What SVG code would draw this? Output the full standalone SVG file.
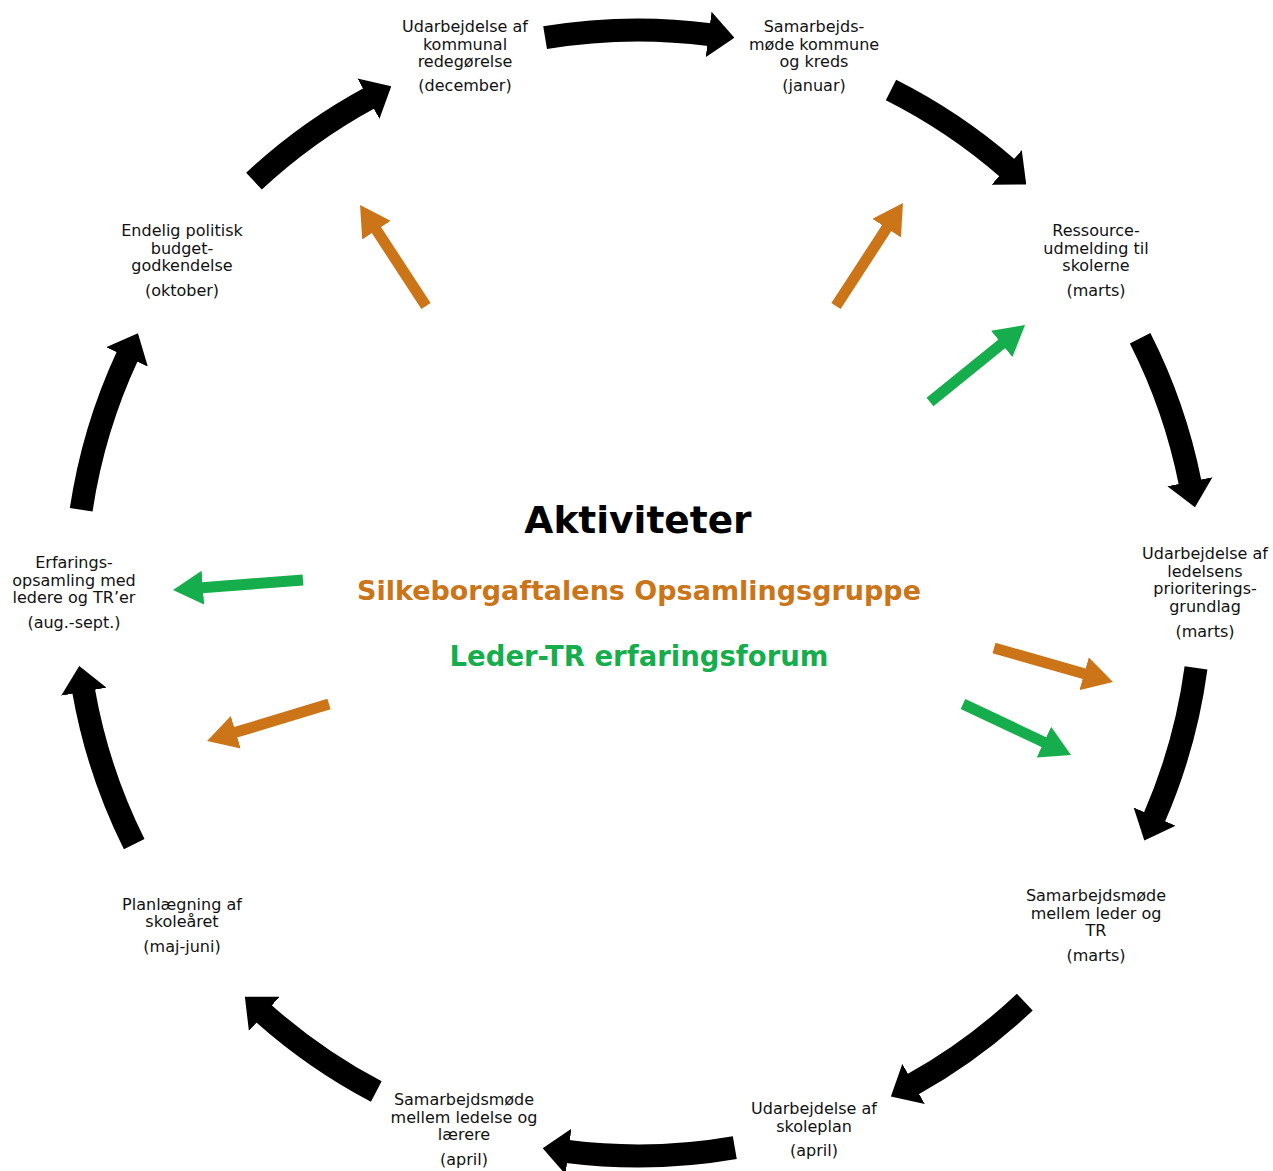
<svg xmlns="http://www.w3.org/2000/svg" width="1273" height="1171" viewBox="0 0 1273 1171">
<defs>
<style>
.lbl{font-family:"DejaVu Sans",Verdana,sans-serif;font-size:16px;fill:#111;text-anchor:middle}
.blk{fill:none;stroke:#000;stroke-width:23;marker-end:url(#hb)}
.org{fill:none;stroke:#CC7418;stroke-width:11;marker-end:url(#ho)}
.grn{fill:none;stroke:#16AE4C;stroke-width:11;marker-end:url(#hg)}
.ttl{font-family:"DejaVu Sans",Verdana,sans-serif;font-weight:bold;text-anchor:middle}
</style>
<marker id="hb" markerUnits="userSpaceOnUse" viewBox="0 0 26 46" markerWidth="26" markerHeight="46" refX="1" refY="23" orient="auto"><path d="M0,0 L26,23 L0,46 z" fill="#000"/></marker>
<marker id="ho" markerUnits="userSpaceOnUse" viewBox="0 0 30 34" markerWidth="30" markerHeight="34" refX="1" refY="17" orient="auto"><path d="M0,0 L30,17 L0,34 z" fill="#CC7418"/></marker>
<marker id="hg" markerUnits="userSpaceOnUse" viewBox="0 0 30 34" markerWidth="30" markerHeight="34" refX="1" refY="17" orient="auto"><path d="M0,0 L30,17 L0,34 z" fill="#16AE4C"/></marker>
</defs>
<rect width="1273" height="1171" fill="#fff"/>
<g id="connectors">
<path class="blk" d="M81.2,509.8 A563,563 0 0 1 127.4,356.0"/>
<path class="blk" d="M254.0,181.2 A563,563 0 0 1 369.3,98.2"/>
<path class="blk" d="M545.1,37.7 A563,563 0 0 1 709.6,34.6"/>
<path class="blk" d="M891.0,90.0 A563,563 0 0 1 1007.4,168.1"/>
<path class="blk" d="M1140.1,338.3 A563,563 0 0 1 1190.1,482.7"/>
<path class="blk" d="M1196.0,667.9 A563,563 0 0 1 1154.3,817.5"/>
<path class="blk" d="M1024.8,1002.1 A563,563 0 0 1 912.7,1084.4"/>
<path class="blk" d="M734.8,1147.6 A563,563 0 0 1 567.5,1151.5"/>
<path class="blk" d="M376.3,1091.5 A563,563 0 0 1 263.5,1013.3"/>
<path class="blk" d="M134.2,844.2 A563,563 0 0 1 83.6,690.7"/>
<path class="org" d="M426,306 L375.9,229.3"/>
<path class="org" d="M836,306 L887.2,227.3"/>
<path class="org" d="M994,648 L1085.1,674.0"/>
<path class="org" d="M329,704 L234.8,732.6"/>
<path class="grn" d="M930,402 L1002.5,343.3"/>
<path class="grn" d="M303,580 L201.9,587.8"/>
<path class="grn" d="M963,704 L1044.8,742.6"/>
</g>
<g id="center">
<text class="ttl" x="638" y="533" font-size="37.5" fill="#000">Aktiviteter</text>
<text class="ttl" x="639" y="600" font-size="27" fill="#CC7418">Silkeborgaftalens Opsamlingsgruppe</text>
<text class="ttl" x="639" y="666" font-size="27.5" fill="#16AE4C">Leder-TR erfaringsforum</text>
</g>
<g id="n-december"><text class="lbl" x="465"><tspan x="465" y="32">Udarbejdelse af</tspan><tspan x="465" y="50">kommunal</tspan><tspan x="465" y="67">redegørelse</tspan><tspan x="465" y="91">(december)</tspan></text></g>
<g id="n-januar"><text class="lbl" x="814"><tspan x="814" y="32">Samarbejds-</tspan><tspan x="814" y="50">møde kommune</tspan><tspan x="814" y="67">og kreds</tspan><tspan x="814" y="91">(januar)</tspan></text></g>
<g id="n-ressource"><text class="lbl" x="1096"><tspan x="1096" y="236">Ressource-</tspan><tspan x="1096" y="254">udmelding til</tspan><tspan x="1096" y="271">skolerne</tspan><tspan x="1096" y="296">(marts)</tspan></text></g>
<g id="n-prioritering"><text class="lbl" x="1205"><tspan x="1205" y="559">Udarbejdelse af</tspan><tspan x="1205" y="577">ledelsens</tspan><tspan x="1205" y="594">prioriterings-</tspan><tspan x="1205" y="612">grundlag</tspan><tspan x="1205" y="637">(marts)</tspan></text></g>
<g id="n-lederTR"><text class="lbl" x="1096"><tspan x="1096" y="901">Samarbejdsmøde</tspan><tspan x="1096" y="919">mellem leder og</tspan><tspan x="1096" y="936">TR</tspan><tspan x="1096" y="961">(marts)</tspan></text></g>
<g id="n-skoleplan"><text class="lbl" x="814"><tspan x="814" y="1114">Udarbejdelse af</tspan><tspan x="814" y="1132">skoleplan</tspan><tspan x="814" y="1156">(april)</tspan></text></g>
<g id="n-laerere"><text class="lbl" x="464"><tspan x="464" y="1105">Samarbejdsmøde</tspan><tspan x="464" y="1123">mellem ledelse og</tspan><tspan x="464" y="1140">lærere</tspan><tspan x="464" y="1165">(april)</tspan></text></g>
<g id="n-planlaegning"><text class="lbl" x="182"><tspan x="182" y="910">Planlægning af</tspan><tspan x="182" y="927">skoleåret</tspan><tspan x="182" y="952">(maj-juni)</tspan></text></g>
<g id="n-erfaring"><text class="lbl" x="74"><tspan x="74" y="568">Erfarings-</tspan><tspan x="74" y="586">opsamling med</tspan><tspan x="74" y="603">ledere og TR’er</tspan><tspan x="74" y="628">(aug.-sept.)</tspan></text></g>
<g id="n-oktober"><text class="lbl" x="182"><tspan x="182" y="236">Endelig politisk</tspan><tspan x="182" y="254">budget-</tspan><tspan x="182" y="271">godkendelse</tspan><tspan x="182" y="296">(oktober)</tspan></text></g>
</svg>
